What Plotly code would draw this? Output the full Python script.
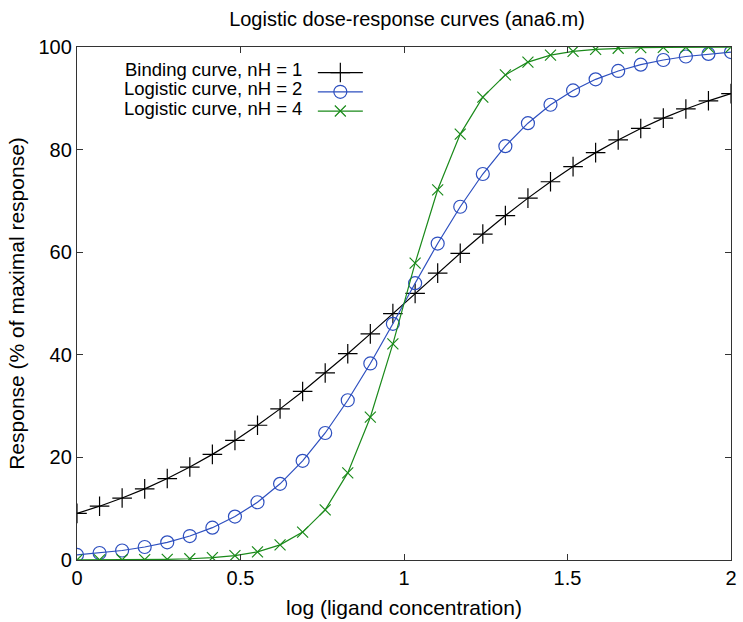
import plotly.graph_objects as go

# log (ligand concentration)
log_conc = [0.0, 0.069, 0.138, 0.207, 0.276, 0.345, 0.414, 0.483, 0.552, 0.621,
            0.690, 0.759, 0.828, 0.897, 0.966, 1.034, 1.103, 1.172, 1.241, 1.310,
            1.379, 1.448, 1.517, 1.586, 1.655, 1.724, 1.793, 1.862, 1.931, 2.0]

binding_nh1 = [9.09, 10.49, 12.08, 13.87, 15.88, 18.12, 20.59, 23.31, 26.27, 29.46,
               32.86, 36.46, 40.21, 44.07, 48.02, 51.98, 55.93, 59.79, 63.54, 67.14,
               70.54, 73.73, 76.69, 79.41, 81.88, 84.12, 86.13, 87.92, 89.51, 90.91]

logistic_nh2 = [0.99, 1.36, 1.85, 2.53, 3.44, 4.67, 6.30, 8.46, 11.26, 14.85,
                19.33, 24.76, 31.14, 38.31, 46.04, 53.96, 61.69, 68.86, 75.24, 80.67,
                85.15, 88.74, 91.54, 93.70, 95.33, 96.56, 97.47, 98.15, 98.65, 99.01]

logistic_nh4 = [0.01, 0.02, 0.04, 0.07, 0.13, 0.24, 0.45, 0.85, 1.59, 2.95,
                5.43, 9.78, 16.98, 27.84, 42.13, 57.87, 72.16, 83.02, 90.22, 94.57,
                97.05, 98.41, 99.15, 99.55, 99.76, 99.87, 99.93, 99.96, 99.98, 99.99]

series_names = ["Binding curve, nH = 1", "Logistic curve, nH = 2", "Logistic curve, nH = 4"]
x_ticks = [0, 0.5, 1, 1.5, 2]
x_tick_labels = ["0", "0.5", "1", "1.5", "2"]
y_ticks = [0, 20, 40, 60, 80, 100]
y_tick_labels = ["0", "20", "40", "60", "80", "100"]

FONT = "Liberation Sans, Arial, Helvetica, sans-serif"
colors = ["#000000", "#2d4fbf", "#1a8a1a"]
symbols = ["cross-thin", "circle-open", "x-thin"]
msizes = [14, 13, 11]

fig = go.Figure()
for name, ys, c, s, ms in zip(series_names, [binding_nh1, logistic_nh2, logistic_nh4],
                              colors, symbols, msizes):
    fig.add_trace(go.Scatter(
        x=log_conc, y=ys, mode="lines+markers", name="", showlegend=True,
        hovertext=name,
        line=dict(color=c, width=1.2),
        marker=dict(symbol=s, size=ms, color=c, line=dict(color=c, width=1.2)),
    ))

L, R, T, B = 77, 6, 47, 58
W, H = 743, 622
pw, ph = W - L - R, H - T - B

def px_x(p):
    return (p - L) / pw

def px_y(p):
    return (H - B - p) / ph

annotations = []
for name, yc in zip(series_names, [70, 89.3, 108.5]):
    annotations.append(dict(
        text=name, xref="paper", yref="paper", x=px_x(306), y=px_y(yc),
        xanchor="right", yanchor="middle", showarrow=False,
        font=dict(family=FONT, size=18.5, color="#000")))

fig.update_layout(
    width=W, height=H,
    margin=dict(l=L, r=R, t=T, b=B),
    paper_bgcolor="white", plot_bgcolor="white",
    title=dict(text="Logistic dose-response curves (ana6.m)", x=(407) / W, xanchor="center",
               y=1 - 19 / H, yanchor="middle",
               font=dict(family=FONT, size=20, color="#000")),
    font=dict(family=FONT, size=20, color="#000"),
    showlegend=True,
    legend=dict(x=px_x(315), y=px_y(58), xanchor="left", yanchor="top",
                bgcolor="rgba(0,0,0,0)", borderwidth=0, itemwidth=45,
                font=dict(size=12.5), tracegroupgap=0),
    annotations=annotations,
    xaxis=dict(range=[0, 2], tickvals=x_ticks, ticktext=x_tick_labels,
               ticks="inside", ticklen=6, tickcolor="#333", tickwidth=1,
               showline=True, linecolor="#333", linewidth=1.3, mirror="ticks",
               showgrid=False, zeroline=False,
               tickfont=dict(family=FONT, size=20),
               title=dict(text="log (ligand concentration)", standoff=12,
                          font=dict(family=FONT, size=21))),
    yaxis=dict(range=[0, 100], tickvals=y_ticks, ticktext=y_tick_labels,
               ticks="inside", ticklen=6, tickcolor="#333", tickwidth=1,
               showline=True, linecolor="#333", linewidth=1.3, mirror="ticks",
               showgrid=False, zeroline=False,
               tickfont=dict(family=FONT, size=20),
               title=dict(text="Response (% of maximal response)", standoff=8,
                          font=dict(family=FONT, size=21))),
)

fig.write_html("out.html")
